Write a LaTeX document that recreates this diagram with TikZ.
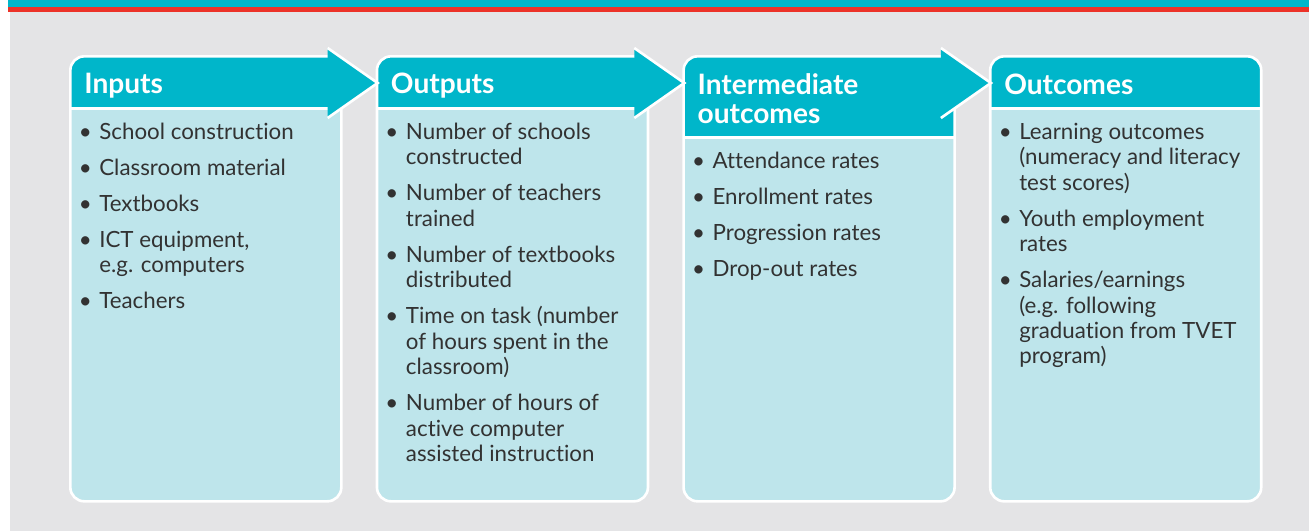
\documentclass[tikz,border=0pt]{standalone}
\usepackage{fontspec}
\setmainfont{Lato}[Ligatures=NoCommon]
\definecolor{HeadTeal}{RGB}{0, 182, 202}
\definecolor{PanelBlue}{RGB}{190, 229, 235}
\definecolor{BackGray}{RGB}{228, 228, 230}
\definecolor{LineRed}{RGB}{236, 50, 40}
\definecolor{TextGray}{RGB}{50, 50, 50}
\usetikzlibrary{positioning, calc}
\newcommand{\itm}{\makebox[0.3cm][l]{\hspace{-0.11cm}\textbullet}}
\newcommand{\cnt}{\hspace*{0.3cm}}

\begin{document}
\begin{tikzpicture}[
            panel/.style={rectangle, rounded corners=0.28cm, draw=white, line width=1.5pt, fill=PanelBlue,
                minimum width=5.42cm, minimum height=8.9cm, inner sep=0, anchor=north west,
                path picture={
                    \fill[HeadTeal, sharp corners] (path picture bounding box.north west) rectangle ([yshift=-#1]path picture bounding box.north east);
                    \draw[white, sharp corners] ([yshift=-#1]path picture bounding box.north west) -- ([yshift=-#1]path picture bounding box.north east);
                }},
            panel/.default=1.04cm,
            head/.style={anchor=west, inner sep=0, align=left, text=white, font=\fontsize{16}{16.4}\selectfont\bfseries},
            items/.style={anchor=north west, inner sep=0, align=left, text=TextGray, font=\fontsize{12.7}{14.5}\selectfont},
            arrowhead/.style={fill=HeadTeal, draw=white, line width=1.5pt, line join=miter},
        ]
            \useasboundingbox (0,0) rectangle (26.18,-10.62);
            % page background and top rule
            \fill[BackGray] (0.2,-0.24) rectangle (26.18,-10.62);
            \fill[HeadTeal] (0.16,0) rectangle (26.18,-0.13);
            \fill[LineRed] (0.16,-0.13) rectangle (26.18,-0.23);

            % panels
            \node[panel] (inputs) at (1.38,-1.10) {};
            \node[panel, right=0.66cm of inputs] (outputs) {};
            \node[panel=1.62cm, right=0.66cm of outputs] (intermediate) {};
            \node[panel, right=0.66cm of intermediate] (outcomes) {};

            % arrows between panels
            \draw[arrowhead] ([xshift=-0.3cm,yshift=0.14cm]inputs.north east) -- ([xshift=0.04cm,yshift=-0.56cm]outputs.north west) -- ([xshift=-0.3cm,yshift=-1.26cm]inputs.north east);
            \draw[arrowhead] ([xshift=-0.3cm,yshift=0.14cm]outputs.north east) -- ([xshift=0.04cm,yshift=-0.56cm]intermediate.north west) -- ([xshift=-0.3cm,yshift=-1.26cm]outputs.north east);
            \draw[arrowhead] ([xshift=-0.3cm,yshift=0.14cm]intermediate.north east) -- ([xshift=0.04cm,yshift=-0.56cm]outcomes.north west) -- ([xshift=-0.3cm,yshift=-1.26cm]intermediate.north east);

            % headings
            \node[head] (inputs-head) at ([xshift=0.3cm,yshift=-0.61cm]inputs.north west) {Inputs};
            \node[head] (outputs-head) at ([xshift=0.3cm,yshift=-0.61cm]outputs.north west) {Outputs};
            \node[head] (intermediate-head) at ([xshift=0.3cm,yshift=-0.88cm]intermediate.north west) {Intermediate\\outcomes};
            \node[head] (outcomes-head) at ([xshift=0.3cm,yshift=-0.58cm]outcomes.north west) {Outcomes};

            % bullet lists
            \node[items] (inputs-list) at ([xshift=0.3cm,yshift=-1.35cm]inputs.north west) {%
                \itm School construction\\[0.21cm]
                \itm Classroom material\\[0.21cm]
                \itm Textbooks\\[0.21cm]
                \itm ICT equipment,\\
                \cnt e.g. computers\\[0.21cm]
                \itm Teachers};
            \node[items] (outputs-list) at ([xshift=0.3cm,yshift=-1.35cm]outputs.north west) {%
                \itm Number of schools\\
                \cnt constructed\\[0.21cm]
                \itm Number of teachers\\
                \cnt trained\\[0.21cm]
                \itm Number of textbooks\\
                \cnt distributed\\[0.21cm]
                \itm Time on task (number\\
                \cnt of hours spent in the\\
                \cnt classroom)\\[0.21cm]
                \itm Number of hours of\\
                \cnt active computer\\
                \cnt assisted instruction};
            \node[items] (intermediate-list) at ([xshift=0.3cm,yshift=-1.93cm]intermediate.north west) {%
                \itm Attendance rates\\[0.21cm]
                \itm Enrollment rates\\[0.21cm]
                \itm Progression rates\\[0.21cm]
                \itm Drop-out rates};
            \node[items] (outcomes-list) at ([xshift=0.3cm,yshift=-1.35cm]outcomes.north west) {%
                \itm Learning outcomes\\
                \cnt (numeracy and literacy\\
                \cnt test scores)\\[0.21cm]
                \itm Youth employment\\
                \cnt rates\\[0.21cm]
                \itm Salaries/earnings\\
                \cnt (e.g. following\\
                \cnt graduation from TVET\\
                \cnt program)};
        \end{tikzpicture}
\end{document}
